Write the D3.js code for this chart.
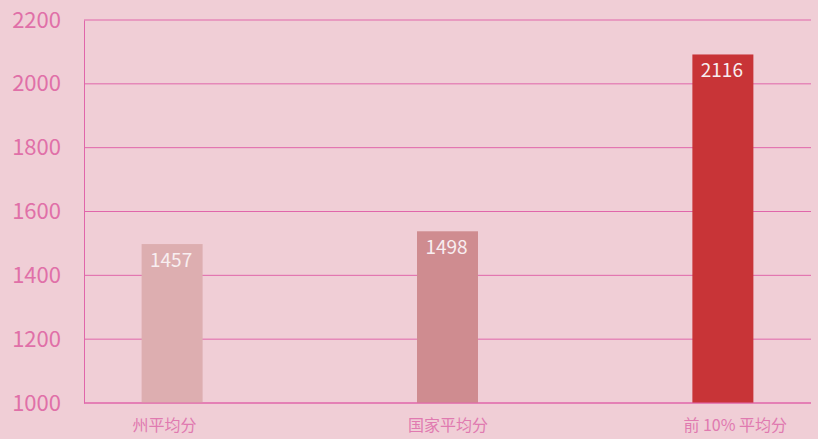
<!DOCTYPE html>
<html lang="zh">
<head>
<meta charset="utf-8">
<title>平均分</title>
<script src="https://cdn.jsdelivr.net/npm/d3@7"></script>
<style>
  html, body { margin: 0; padding: 0; background: #f0ced6; }
  svg { display: block; font-family: "Noto Sans CJK SC", "Noto Sans", sans-serif; }
</style>
</head>
<body>
<div id="chart"></div>
<script>
// categories along the x axis
const categories = ["州平均分", "国家平均分", "前 10% 平均分"];
// bar heights as drawn in the picture
const barValues = [1498, 1538, 2092];
// numbers printed on the bars
const valueLabels = [1457, 1498, 2116];
// y axis ticks
const yTicks = [1000, 1200, 1400, 1600, 1800, 2000, 2200];
const barColors = ["#ddaeb0", "#cf8c90", "#c83437"];

const W = 818, H = 439;
const margin = {top: 20, right: 7, bottom: 36, left: 84};
const width = W - margin.left - margin.right,
      height = H - margin.top - margin.bottom;

const svg = d3.select("#chart").append("svg")
    .attr("width", W).attr("height", H)
  .append("g")
    .attr("transform", "translate(" + margin.left + "," + margin.top + ")");

const x = d3.scalePoint()
    .domain(categories)
    .range([0, width])
    .padding(0.32);

const y = d3.scaleLinear()
    .domain([1000, 2200])
    .range([height, 0]);

const barW = 61;
const pink = "#e066aa";

// grid lines
svg.selectAll("line.grid")
    .data(yTicks)
    .enter().append("line")
    .attr("class", "grid")
    .attr("x1", 0).attr("x2", width)
    .attr("y1", d => y(d)).attr("y2", d => y(d))
    .attr("stroke", pink).attr("stroke-width", 1);

// y axis
const yAxis = svg.append("g")
    .call(d3.axisLeft(y).tickValues(yTicks).tickSize(0).tickPadding(23).tickFormat(d3.format("d")));
yAxis.select(".domain").attr("stroke", pink);
yAxis.selectAll("text")
    .attr("fill", "#e070a8")
    .style("font-size", "22px")
    .style("font-family", "'Noto Sans CJK SC', sans-serif");

// bars
svg.selectAll("rect.bar")
    .data(categories)
    .enter().append("rect")
    .attr("class", "bar")
    .attr("x", d => x(d) - barW / 2)
    .attr("width", barW)
    .attr("y", (d, i) => y(barValues[i]))
    .attr("height", (d, i) => height - y(barValues[i]))
    .attr("fill", (d, i) => barColors[i]);

// value labels
svg.selectAll("text.val")
    .data(categories)
    .enter().append("text")
    .attr("class", "val")
    .attr("x", d => x(d) - 1)
    .attr("y", (d, i) => y(barValues[i]) + 23)
    .attr("text-anchor", "middle")
    .attr("fill", "#f8eef0")
    .style("font-size", "19px")
    .text((d, i) => valueLabels[i]);

// category labels
svg.selectAll("text.cat")
    .data(categories)
    .enter().append("text")
    .attr("class", "cat")
    .attr("x", d => x(d) - barW / 2 - 9)
    .attr("y", height + 28)
    .attr("fill", "#e07ab0")
    .style("font-size", "16px")
    .text(d => d);

// baseline redrawn on top of bars
svg.append("line")
    .attr("x1", 0).attr("x2", width)
    .attr("y1", height).attr("y2", height)
    .attr("stroke", pink);
</script>
</body>
</html>
